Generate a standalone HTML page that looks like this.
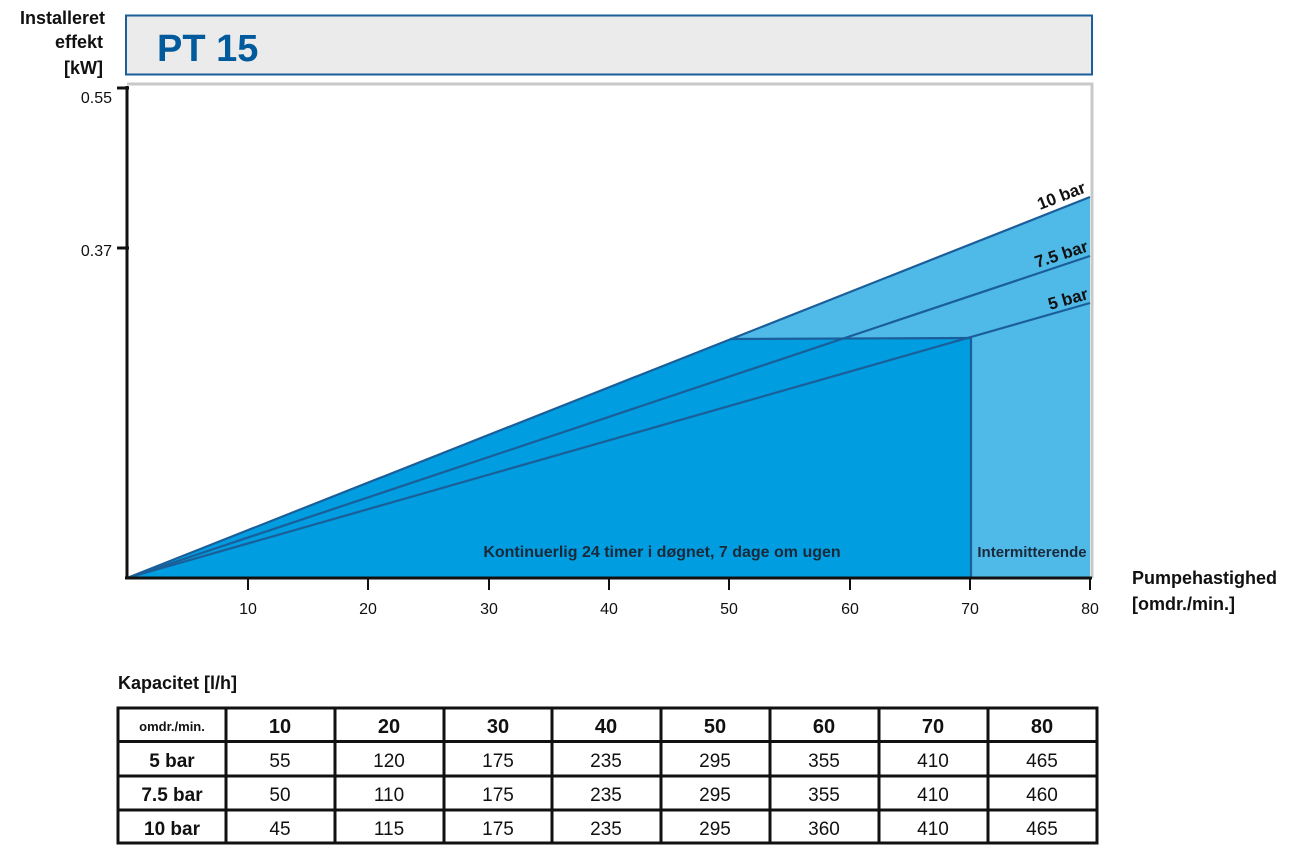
<!DOCTYPE html>
<html><head><meta charset="utf-8"><style>
body{margin:0;background:#fff;width:1306px;height:860px;overflow:hidden;font-family:"Liberation Sans Narrow","Liberation Sans",sans-serif}
svg{position:absolute;left:0;top:0}
</style></head><body>
<svg width="1306" height="860" viewBox="0 0 1306 860" font-family="Liberation Sans Narrow, Liberation Sans, sans-serif">
<text x="105" y="24" text-anchor="end" font-size="18" font-weight="bold" fill="#111">Installeret</text>
<text x="103" y="48" text-anchor="end" font-size="18" font-weight="bold" fill="#111">effekt</text>
<text x="103" y="74" text-anchor="end" font-size="18" font-weight="bold" fill="#111">[kW]</text>
<rect x="126" y="15.5" width="966" height="59" fill="#ebebeb" stroke="#1a5e9a" stroke-width="2"/>
<text x="157" y="61" font-size="38" font-weight="bold" fill="#005a9c" font-family="Liberation Sans, sans-serif">PT 15</text>
<polyline points="127,84 1092,84 1092,578" fill="none" stroke="#c8c8c8" stroke-width="3"/>
<polygon points="127,578 1090,197 1090,578" fill="#4fb9e8"/>
<polygon points="127,578 730,339 971,338 971,578" fill="#009ee0"/>
<g stroke="#1a5e9a" stroke-width="2.2" fill="none">
<line x1="127" y1="578" x2="1090" y2="197"/>
<line x1="127" y1="578" x2="1090" y2="256"/>
<line x1="127" y1="578" x2="1090" y2="303"/>
<polyline points="730,339 971,338 971,578"/>
</g>
<g font-size="17" font-weight="bold" fill="#111">
<text transform="translate(1040,210) rotate(-21)">10 bar</text>
<text transform="translate(1037,268) rotate(-18)">7.5 bar</text>
<text transform="translate(1050,310) rotate(-16)">5 bar</text>
</g>
<text x="662" y="557" text-anchor="middle" font-size="16" font-weight="bold" fill="#1a2a3a">Kontinuerlig 24 timer i døgnet, 7 dage om ugen</text>
<text x="1032" y="557" text-anchor="middle" font-size="15" font-weight="bold" fill="#1a2a3a">Intermitterende</text>
<g stroke="#111" stroke-width="3">
<line x1="127" y1="86" x2="127" y2="579"/>
<line x1="125" y1="578" x2="1092" y2="578"/>
<line x1="117" y1="88" x2="129" y2="88"/>
<line x1="117" y1="248" x2="129" y2="248"/>
</g>
<g stroke="#111" stroke-width="2">
<line x1="248" y1="578" x2="248" y2="590"/><line x1="368" y1="578" x2="368" y2="590"/>
<line x1="489" y1="578" x2="489" y2="590"/><line x1="609" y1="578" x2="609" y2="590"/>
<line x1="729" y1="578" x2="729" y2="590"/><line x1="850" y1="578" x2="850" y2="590"/>
<line x1="970" y1="578" x2="970" y2="590"/><line x1="1090" y1="578" x2="1090" y2="590"/>
</g>
<g font-size="16" fill="#111" text-anchor="middle">
<text x="248" y="614">10</text><text x="368" y="614">20</text><text x="489" y="614">30</text><text x="609" y="614">40</text>
<text x="729" y="614">50</text><text x="850" y="614">60</text><text x="970" y="614">70</text><text x="1090" y="614">80</text>
</g>
<g font-size="16" fill="#111" text-anchor="end">
<text x="112" y="103">0.55</text><text x="112" y="256">0.37</text>
</g>
<text x="1132" y="584" font-size="18" font-weight="bold" fill="#111">Pumpehastighed</text>
<text x="1132" y="610" font-size="18" font-weight="bold" fill="#111">[omdr./min.]</text>
<text x="118" y="689" font-size="18" font-weight="bold" fill="#111">Kapacitet [l/h]</text>
<g stroke="#111" stroke-width="3" fill="none">
<rect x="118" y="708" width="979" height="135"/>
<line x1="118" y1="741.5" x2="1097" y2="741.5"/>
<line x1="118" y1="776" x2="1097" y2="776"/>
<line x1="118" y1="810" x2="1097" y2="810"/>
<line x1="226" y1="708" x2="226" y2="843"/><line x1="335" y1="708" x2="335" y2="843"/>
<line x1="444" y1="708" x2="444" y2="843"/><line x1="552" y1="708" x2="552" y2="843"/>
<line x1="661" y1="708" x2="661" y2="843"/><line x1="770" y1="708" x2="770" y2="843"/>
<line x1="879" y1="708" x2="879" y2="843"/><line x1="988" y1="708" x2="988" y2="843"/>
</g>
<g fill="#111" text-anchor="middle">
<text x="172" y="731" font-size="13" font-weight="bold">omdr./min.</text>
<text x="172" y="767" font-size="19" font-weight="bold">5 bar</text>
<text x="172" y="801" font-size="19" font-weight="bold">7.5 bar</text>
<text x="172" y="835" font-size="19" font-weight="bold">10 bar</text>
<g font-size="20" font-weight="bold">
<text x="280" y="733">10</text><text x="389" y="733">20</text><text x="498" y="733">30</text><text x="606" y="733">40</text>
<text x="715" y="733">50</text><text x="824" y="733">60</text><text x="933" y="733">70</text><text x="1042" y="733">80</text>
</g>
<g font-size="19">
<text x="280" y="767">55</text><text x="389" y="767">120</text><text x="498" y="767">175</text><text x="606" y="767">235</text>
<text x="715" y="767">295</text><text x="824" y="767">355</text><text x="933" y="767">410</text><text x="1042" y="767">465</text>
<text x="280" y="801">50</text><text x="389" y="801">110</text><text x="498" y="801">175</text><text x="606" y="801">235</text>
<text x="715" y="801">295</text><text x="824" y="801">355</text><text x="933" y="801">410</text><text x="1042" y="801">460</text>
<text x="280" y="835">45</text><text x="389" y="835">115</text><text x="498" y="835">175</text><text x="606" y="835">235</text>
<text x="715" y="835">295</text><text x="824" y="835">360</text><text x="933" y="835">410</text><text x="1042" y="835">465</text>
</g>
</g>
</svg>
</body></html>
